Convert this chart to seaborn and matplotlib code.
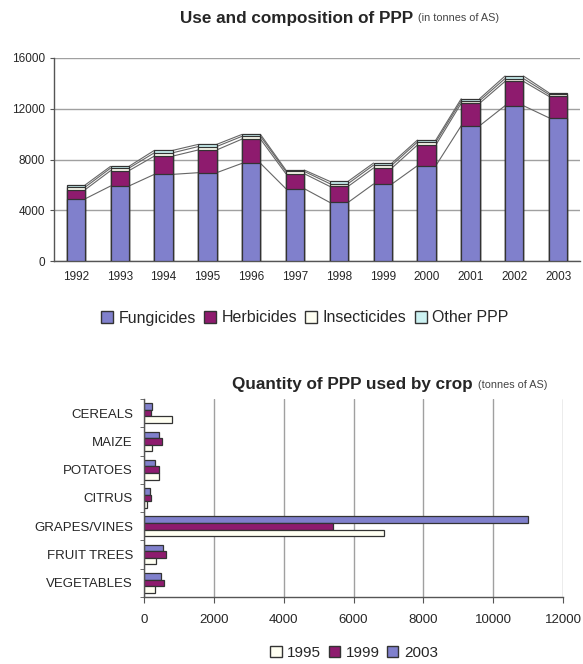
import numpy as np
import pandas as pd
import matplotlib
matplotlib.use("Agg")
import matplotlib.pyplot as plt
import seaborn as sns
from matplotlib.patches import Patch

# top chart data (tonnes of active substance)
years = ['1992', '1993', '1994', '1995', '1996', '1997',
         '1998', '1999', '2000', '2001', '2002', '2003']
fungicides = [4900, 5910, 6830, 6960, 7700, 5700, 4620, 6070, 7510, 10660, 12240, 11290]
herbicides = [720, 1210, 1440, 1790, 1910, 1180, 1260, 1260, 1630, 1770, 1920, 1690]
insecticides = [200, 200, 260, 270, 220, 180, 220, 230, 230, 200, 220, 150]
other_ppp = [170, 140, 190, 170, 150, 110, 180, 160, 160, 160, 200, 130]

# bottom chart data
crops = ['CEREALS', 'MAIZE', 'POTATOES', 'CITRUS', 'GRAPES/VINES', 'FRUIT TREES', 'VEGETABLES']
q1995 = [800, 220, 420, 75, 6870, 345, 325]
q1999 = [190, 510, 420, 190, 5400, 640, 575]
q2003 = [220, 420, 325, 170, 11000, 545, 490]

c_fung = '#8080CC'
c_herb = '#8E1B6E'
c_insect = '#FFFFF2'
c_other = '#CCF2F2'
edge = '#333333'
grid_c = '#A0A0A0'

sns.set_style("white")
plt.rcParams['font.family'] = ['Liberation Sans', 'DejaVu Sans']

W, H = 583, 664
fig = plt.figure(figsize=(W / 100, H / 100), dpi=100)


def px_axes(left, top, right, bottom):
    return fig.add_axes([left / W, 1 - bottom / H, (right - left) / W, (bottom - top) / H])


# ---------- top: stacked bars ----------
ax1 = px_axes(54, 58, 580, 261)
df = pd.DataFrame({'year': years, 'Fungicides': fungicides, 'Herbicides': herbicides,
                   'Insecticides': insecticides, 'Other PPP': other_ppp})
layers = ['Fungicides', 'Herbicides', 'Insecticides', 'Other PPP']
colors = [c_fung, c_herb, c_insect, c_other]
cum = df[layers].cumsum(axis=1)

bw = 0.42
# series lines between bars
for k in layers:
    v = cum[k].values
    for i in range(len(years) - 1):
        ax1.plot([i + bw / 2, i + 1 - bw / 2], [v[i], v[i + 1]], color='#666666', lw=0.8, zorder=1)

for k, c in zip(layers[::-1], colors[::-1]):
    sns.barplot(x=df['year'], y=cum[k], color=c, width=bw, saturation=1,
                edgecolor=edge, linewidth=0.9, ax=ax1, zorder=3)

ax1.set_ylim(0, 16000)
ax1.set_xlim(-0.5, len(years) - 0.5)
ax1.set_yticks(np.arange(0, 16001, 4000))
ax1.yaxis.grid(True, color=grid_c, lw=1)
ax1.set_axisbelow(True)
ax1.set_xlabel('')
ax1.set_ylabel('')
for s in ['top', 'right']:
    ax1.spines[s].set_visible(False)
for s in ['left', 'bottom']:
    ax1.spines[s].set_color('#555555')
    ax1.spines[s].set_linewidth(1)
ax1.tick_params(axis='x', which='major', length=0, labelsize=8.5, pad=7)
ax1.set_xticks(np.arange(-0.5, len(years), 1), minor=True)
ax1.tick_params(axis='x', which='minor', length=3, color='#555555', direction='out')
ax1.tick_params(axis='y', length=3, labelsize=8.5, color='#555555', left=True, direction='out')

fig.legend(handles=[Patch(facecolor=c, edgecolor=edge, label=k) for k, c in zip(layers, colors)],
           loc='center', bbox_to_anchor=(305 / W, 1 - 318 / H), ncol=4, frameon=False,
           fontsize=11.5, handlelength=0.75, handleheight=0.75, handletextpad=0.35,
           columnspacing=0.5)

# ---------- bottom: horizontal grouped bars ----------
ax2 = px_axes(144, 399, 563, 597)
long = pd.DataFrame({
    'crop': crops * 3,
    'year': ['2003'] * len(crops) + ['1999'] * len(crops) + ['1995'] * len(crops),
    'q': q2003 + q1999 + q1995,
})
pal = {'2003': c_fung, '1999': c_herb, '1995': c_insect}
sns.barplot(data=long, y='crop', x='q', hue='year', hue_order=['2003', '1999', '1995'],
            palette=pal, orient='h', width=0.7, saturation=1, edgecolor=edge,
            linewidth=0.9, ax=ax2, legend=False)
ax2.set_xlim(0, 12000)
ax2.set_ylim(len(crops) - 0.5, -0.5)
ax2.set_xticks(np.arange(0, 12001, 2000))
ax2.xaxis.grid(True, color=grid_c, lw=1)
ax2.set_axisbelow(True)
ax2.set_xlabel('')
ax2.set_ylabel('')
for s in ['top', 'right']:
    ax2.spines[s].set_visible(False)
for s in ['left', 'bottom']:
    ax2.spines[s].set_color('#555555')
    ax2.spines[s].set_linewidth(1)
ax2.tick_params(axis='y', which='major', length=0, labelsize=9.5, pad=8)
ax2.set_yticks(np.arange(-0.5, len(crops), 1), minor=True)
ax2.tick_params(axis='y', which='minor', length=3, color='#555555', direction='out', left=True)
ax2.tick_params(axis='x', length=4, labelsize=9.5, color='#555555', bottom=True,
                direction='out', pad=8)

fig.legend(handles=[Patch(facecolor=pal[y], edgecolor=edge, label=y) for y in ['1995', '1999', '2003']],
           loc='center', bbox_to_anchor=(354 / W, 1 - 653 / H), ncol=3, frameon=False,
           fontsize=11, handlelength=0.75, handleheight=0.75, handletextpad=0.35,
           columnspacing=0.5)

# ---------- titles ----------
fig.canvas.draw()
rend = fig.canvas.get_renderer()


def two_part_title(x0, y, main, sub):
    t = fig.text(x0 / W, 1 - y / H, main, fontsize=12.3, fontweight='bold', va='center', ha='left')
    bb = t.get_window_extent(renderer=rend)
    fig.text((bb.x1 + 5) / W, 1 - y / H, sub, fontsize=7.8, color='#444444', va='center', ha='left')


two_part_title(180, 18, 'Use and composition of PPP', '(in tonnes of AS)')
two_part_title(232, 385, 'Quantity of PPP used by crop', '(tonnes of AS)')

fig.savefig('out.png', dpi=100)
